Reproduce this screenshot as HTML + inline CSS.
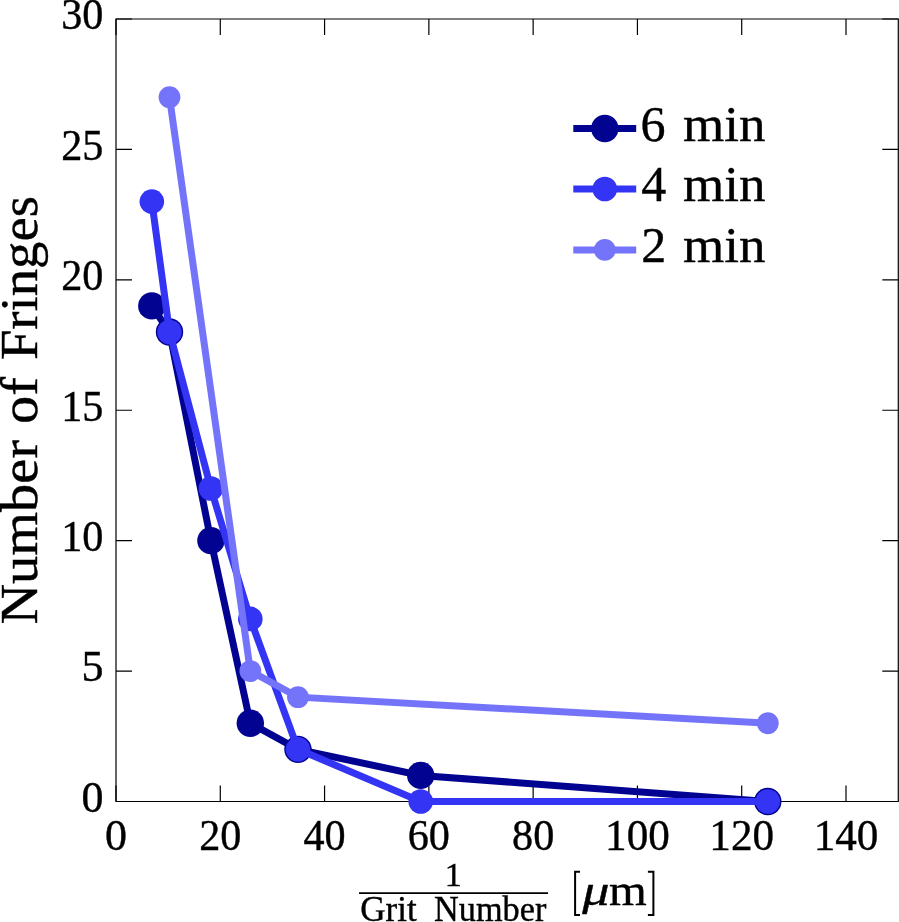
<!DOCTYPE html>
<html><head><meta charset="utf-8"><style>
html,body{margin:0;padding:0;background:#fff;width:899px;height:922px;overflow:hidden}
svg{display:block;will-change:transform}
text{font-family:"Liberation Serif",serif;fill:#000;stroke:#000;stroke-width:0.4px}
</style></head><body>
<svg width="899" height="922" viewBox="0 0 899 922">
<path d="M116 19H898.3V801.5H116Z" fill="none" stroke="#000" stroke-width="1.2"/>
<path d="M116.00 801.5V785.50 M116.00 19V35.00 M220.29 801.5V785.50 M220.29 19V35.00 M324.57 801.5V785.50 M324.57 19V35.00 M428.86 801.5V785.50 M428.86 19V35.00 M533.14 801.5V785.50 M533.14 19V35.00 M637.43 801.5V785.50 M637.43 19V35.00 M741.71 801.5V785.50 M741.71 19V35.00 M846.00 801.5V785.50 M846.00 19V35.00 M116 801.50H132.00 M898.3 801.50H882.30 M116 671.08H132.00 M898.3 671.08H882.30 M116 540.67H132.00 M898.3 540.67H882.30 M116 410.25H132.00 M898.3 410.25H882.30 M116 279.83H132.00 M898.3 279.83H882.30 M116 149.42H132.00 M898.3 149.42H882.30 M116 19.00H132.00 M898.3 19.00H882.30" fill="none" stroke="#000" stroke-width="1.2"/>
<path d="M151.82 305.92 L169.50 332.00 L210.90 540.67 L250.32 723.25 L297.98 749.33 L420.72 775.42 L767.79 801.50" fill="none" stroke="#030391" stroke-width="7" stroke-linejoin="miter"/>
<circle cx="151.82" cy="305.92" r="13.7" fill="#030391"/>
<circle cx="169.50" cy="332.00" r="13.7" fill="#030391"/>
<circle cx="210.90" cy="540.67" r="13.7" fill="#030391"/>
<circle cx="250.32" cy="723.25" r="13.7" fill="#030391"/>
<circle cx="297.98" cy="749.33" r="13.7" fill="#030391"/>
<circle cx="420.72" cy="775.42" r="13.7" fill="#030391"/>
<circle cx="767.79" cy="801.50" r="13.7" fill="#030391"/>

<path d="M151.82 201.58 L169.50 332.00 L210.90 488.50 L250.32 618.92 L297.98 749.33 L420.72 801.50 L767.79 801.50" fill="none" stroke="#3434f4" stroke-width="7" stroke-linejoin="miter"/>
<circle cx="151.82" cy="201.58" r="12.3" fill="#3434f4"/>
<circle cx="169.50" cy="332.00" r="12.3" fill="#3434f4"/>
<circle cx="210.90" cy="488.50" r="12.3" fill="#3434f4"/>
<circle cx="250.32" cy="618.92" r="12.3" fill="#3434f4"/>
<circle cx="297.98" cy="749.33" r="12.3" fill="#3434f4"/>
<circle cx="420.72" cy="801.50" r="12.3" fill="#3434f4"/>
<circle cx="767.79" cy="801.50" r="12.3" fill="#3434f4"/>

<path d="M169.50 97.25 L250.32 671.08 L297.98 697.17 L767.79 723.25" fill="none" stroke="#7474fb" stroke-width="7" stroke-linejoin="miter"/>
<circle cx="169.50" cy="97.25" r="10.9" fill="#7474fb"/>
<circle cx="250.32" cy="671.08" r="10.9" fill="#7474fb"/>
<circle cx="297.98" cy="697.17" r="10.9" fill="#7474fb"/>
<circle cx="767.79" cy="723.25" r="10.9" fill="#7474fb"/>

<text x="103.4" y="811.80" font-size="44" text-anchor="end">0</text>
<text x="103.4" y="681.38" font-size="44" text-anchor="end">5</text>
<text x="103.4" y="550.97" font-size="44" text-anchor="end" textLength="42.2" lengthAdjust="spacingAndGlyphs">10</text>
<text x="103.4" y="420.55" font-size="44" text-anchor="end" textLength="42.2" lengthAdjust="spacingAndGlyphs">15</text>
<text x="103.4" y="290.13" font-size="44" text-anchor="end" textLength="42.2" lengthAdjust="spacingAndGlyphs">20</text>
<text x="103.4" y="159.72" font-size="44" text-anchor="end" textLength="42.2" lengthAdjust="spacingAndGlyphs">25</text>
<text x="103.4" y="29.30" font-size="44" text-anchor="end" textLength="42.2" lengthAdjust="spacingAndGlyphs">30</text>
<text x="116.00" y="849.8" font-size="44" text-anchor="middle">0</text>
<text x="220.29" y="849.8" font-size="44" text-anchor="middle" textLength="42.2" lengthAdjust="spacingAndGlyphs">20</text>
<text x="324.57" y="849.8" font-size="44" text-anchor="middle" textLength="42.2" lengthAdjust="spacingAndGlyphs">40</text>
<text x="428.86" y="849.8" font-size="44" text-anchor="middle" textLength="42.2" lengthAdjust="spacingAndGlyphs">60</text>
<text x="533.14" y="849.8" font-size="44" text-anchor="middle" textLength="42.2" lengthAdjust="spacingAndGlyphs">80</text>
<text x="637.43" y="849.8" font-size="44" text-anchor="middle" textLength="64.7" lengthAdjust="spacingAndGlyphs">100</text>
<text x="741.71" y="849.8" font-size="44" text-anchor="middle" textLength="64.7" lengthAdjust="spacingAndGlyphs">120</text>
<text x="846.00" y="849.8" font-size="44" text-anchor="middle" textLength="64.7" lengthAdjust="spacingAndGlyphs">140</text>
<path d="M573.3 128.50H636.2" stroke="#030391" stroke-width="7"/>
<circle cx="604.8" cy="128.50" r="13.7" fill="#030391"/>
<text x="640.4" y="140.80" font-size="50">6</text>
<text x="683" y="140.80" font-size="50" textLength="82.5" lengthAdjust="spacingAndGlyphs">min</text>
<path d="M573.3 189.00H636.2" stroke="#3434f4" stroke-width="7"/>
<circle cx="604.8" cy="189.00" r="12.3" fill="#3434f4"/>
<text x="641.3" y="201.30" font-size="50">4</text>
<text x="683" y="201.30" font-size="50" textLength="82.5" lengthAdjust="spacingAndGlyphs">min</text>
<path d="M573.3 249.90H636.2" stroke="#7474fb" stroke-width="7"/>
<circle cx="604.8" cy="249.90" r="10.9" fill="#7474fb"/>
<text x="641.2" y="262.20" font-size="50">2</text>
<text x="683" y="262.20" font-size="50" textLength="82.5" lengthAdjust="spacingAndGlyphs">min</text>
<text transform="translate(36.8,624.6) rotate(-90)" font-size="52" textLength="184.5" lengthAdjust="spacingAndGlyphs">Number</text>
<text transform="translate(36.8,424.0) rotate(-90)" font-size="52" textLength="46.9" lengthAdjust="spacingAndGlyphs">of</text>
<text transform="translate(36.8,360.1) rotate(-90)" font-size="52" textLength="164.1" lengthAdjust="spacingAndGlyphs">Fringes</text>
<text x="444.8" y="886.3" font-size="34">1</text>
<path d="M359 893.2H548" stroke="#000" stroke-width="1.8"/>
<text x="360.3" y="920.6" font-size="35">Grit</text>
<text x="434.1" y="920.6" font-size="35" textLength="112.2" lengthAdjust="spacingAndGlyphs">Number</text>
<path d="M580 871.7H575.1V915.1H580" fill="none" stroke="#000" stroke-width="2"/>
<path d="M647.9 871.7H653.4V915.1H647.9" fill="none" stroke="#000" stroke-width="2"/>
<text x="582.25" y="904.8" font-size="45" font-style="italic" textLength="27.3" lengthAdjust="spacingAndGlyphs">μ</text>
<text x="609" y="904.8" font-size="45" textLength="37.8" lengthAdjust="spacingAndGlyphs">m</text>
</svg>
</body></html>
